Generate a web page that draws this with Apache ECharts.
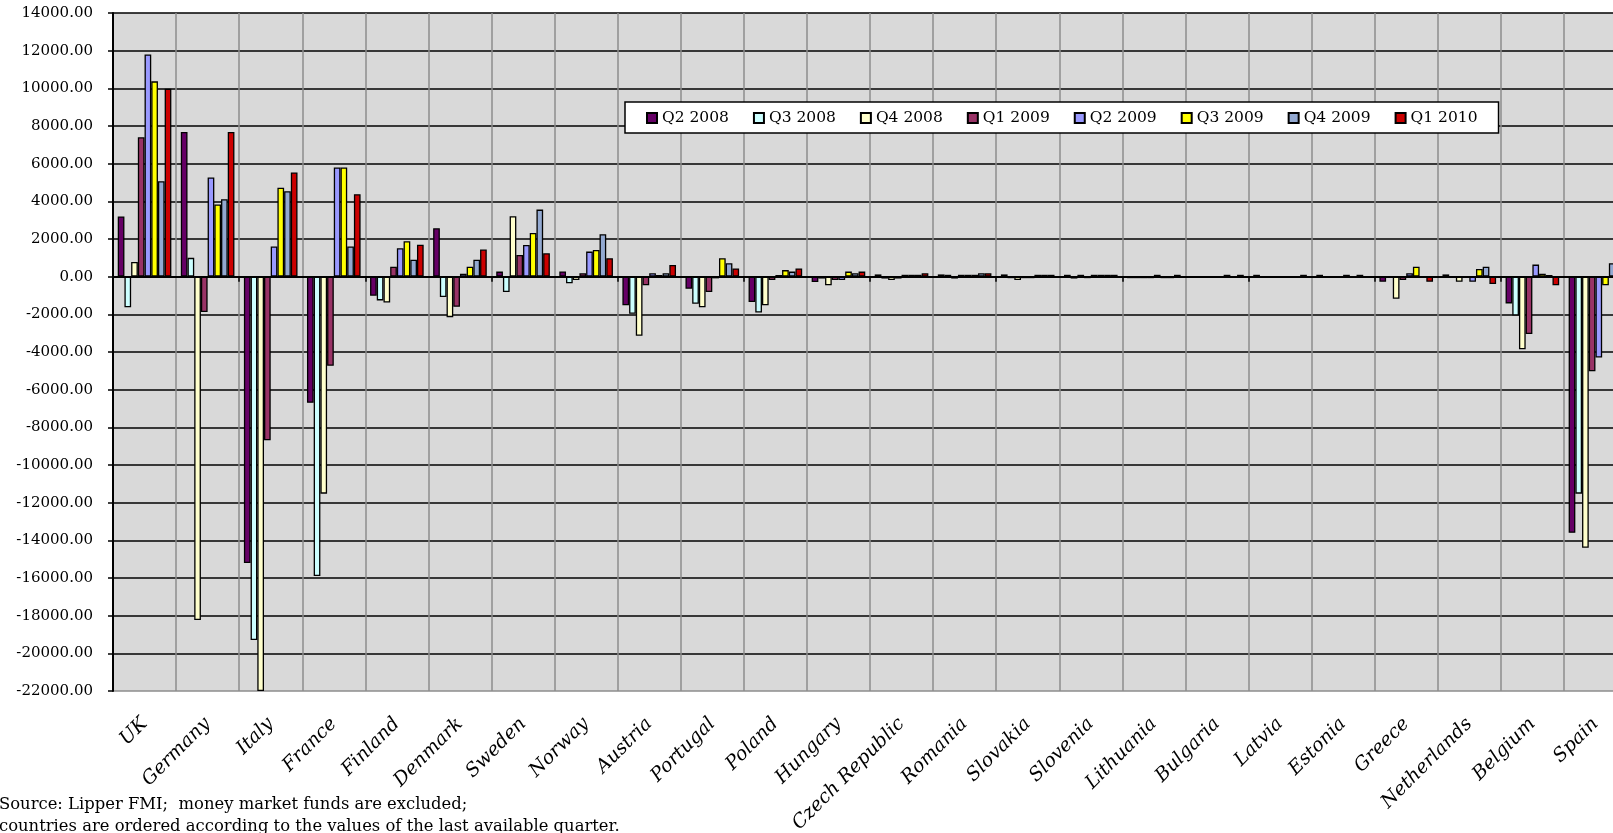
<!DOCTYPE html>
<html>
<head>
<meta charset="utf-8">
<script src="https://cdn.jsdelivr.net/npm/echarts@6/dist/echarts.min.js"></script>
<style>
  html, body { margin: 0; padding: 0; background: #ffffff; }
  #chart { width: 1613px; height: 833px; }
</style>
</head>
<body>
<div id="chart"></div>
<script>
// Net sales of investment funds by country, quarterly (money market funds excluded)
const countries = ['UK', 'Germany', 'Italy', 'France', 'Finland', 'Denmark', 'Sweden', 'Norway',
  'Austria', 'Portugal', 'Poland', 'Hungary', 'Czech Republic', 'Romania', 'Slovakia', 'Slovenia',
  'Lithuania', 'Bulgaria', 'Latvia', 'Estonia', 'Greece', 'Netherlands', 'Belgium', 'Spain'];

const quarters = ['Q2 2008', 'Q3 2008', 'Q4 2008', 'Q1 2009', 'Q2 2009', 'Q3 2009', 'Q4 2009', 'Q1 2010'];

const q2_2008 = [3200, 7680, -15210, -6700, -1010, 2570, 270, 280, -1520, -640, -1350, -280,
  120, 120, 120, 100, -80, -60, 100, 100, -270, 120, -1420, -13600];
const q3_2008 = [-1630, 1000, -19290, -15890, -1260, -1080, -820, -350, -1970, -1440, -1900, -100,
  -100, 100, -80, -100, -80, -60, -60, -60, -40, -50, -2060, -11520];
const q4_2008 = [780, -18230, -22000, -11520, -1370, -2150, 3210, -180, -3140, -1630, -1520, -460,
  -180, -100, -180, 100, -80, -60, -60, -60, -1170, -270, -3850, -14400];
const q1_2009 = [7400, -1880, -8690, -4730, 530, -1600, 1150, 180, -460, -820, -180, -180,
  -100, 100, -80, -80, -80, -60, -60, -60, -180, -50, -3050, -5020];
const q2_2009 = [11800, 5270, 1600, 5800, 1510, 160, 1680, 1330, 180, -90, 90, -180,
  100, 100, -80, 100, 100, -60, -60, 100, 180, -270, 640, -4290];
const q3_2009 = [10370, 3830, 4720, 5800, 1880, 530, 2320, 1420, 90, 980, 350, 270,
  100, 100, 100, 100, -80, 100, -60, -60, 530, 410, 160, -460];
const q4_2009 = [5070, 4110, 4540, 1600, 900, 900, 3560, 2250, 180, 710, 270, 180,
  100, 180, 100, 100, -80, -60, -60, 100, -40, 530, 90, 710];
const q1_2010 = [9980, 7680, 5530, 4380, 1700, 1440, 1240, 980, 620, 440, 440, 270,
  180, 180, 100, 100, 100, 100, 100, -60, -270, -390, -460, -1100];

const seriesValues = [q2_2008, q3_2008, q4_2008, q1_2009, q2_2009, q3_2009, q4_2009, q1_2010];
const seriesColors = ['#660066', '#ccffff', '#ffffcc', '#993366', '#9999ff', '#ffff00', '#93a9d1', '#cc0000'];

const yMin = -22000, yMax = 14000, yStep = 2000;
const sourceNote = [
  'Source: Lipper FMI;  money market funds are excluded;',
  'countries are ordered according to the values of the last available quarter.'
];

const serif = '"DejaVu Serif", "Liberation Serif", serif';

// bottom border of the plot is grey, all other horizontal rules black
const hLineColors = [];
for (let v = yMin; v <= yMax; v += yStep) hLineColors.push(v === yMin ? '#8c8c8c' : '#000000');

const chart = echarts.init(document.getElementById('chart'), null, { renderer: 'canvas' });

chart.setOption({
  animation: false,
  backgroundColor: '#ffffff',
  grid: {
    // the plot runs a little past the right edge of the page
    left: 113, top: 13, width: 1514, bottom: 142,
    outerBoundsMode: 'none', containLabel: false,
    show: true, backgroundColor: '#d9d9d9', borderWidth: 0
  },
  legend: {
    data: quarters,
    left: 625, top: 102,
    orient: 'horizontal',
    backgroundColor: '#ffffff',
    borderColor: '#000000', borderWidth: 1.5,
    padding: [8, 21, 7, 21],
    itemGap: 24, itemWidth: 10, itemHeight: 10,
    icon: 'rect',
    textStyle: { fontFamily: serif, fontSize: 15.5, color: '#000000' }
  },
  xAxis: [
    {
      type: 'category', data: countries, position: 'bottom',
      axisLine: { show: false, onZero: false },
      axisTick: { show: false },
      splitLine: { show: true, lineStyle: { color: '#8c8c8c', width: 1.5 } },
      axisLabel: {
        interval: 0, rotate: 45, margin: 30,
        fontFamily: serif, fontStyle: 'italic', fontSize: 19, color: '#000000'
      }
    },
    {
      type: 'category', data: countries, position: 'bottom',
      axisLine: { show: true, onZero: true, lineStyle: { color: '#000000', width: 2 } },
      axisTick: { show: true, length: 5, lineStyle: { color: '#000000', width: 1.5 } },
      axisLabel: { show: false },
      splitLine: { show: false }
    }
  ],
  yAxis: {
    type: 'value', min: yMin, max: yMax, interval: yStep,
    axisLine: { show: true, lineStyle: { color: '#000000', width: 2 } },
    axisTick: { show: true, length: 5, lineStyle: { color: '#000000', width: 1.5 } },
    splitLine: { show: true, lineStyle: { color: hLineColors, width: 1.5 } },
    axisLabel: {
      margin: 20, fontFamily: serif, fontSize: 15, color: '#000000',
      formatter: v => v.toFixed(2)
    }
  },
  graphic: sourceNote.map((line, i) => ({
    type: 'text', left: -1, top: 797 + i * 22,
    style: { text: line, font: '16.4px ' + serif, fill: '#000000' }
  })),
  series: quarters.map((name, i) => ({
    name: name, type: 'bar', xAxisIndex: 0,
    data: seriesValues[i],
    barGap: '0%', barCategoryGap: '15%',
    itemStyle: { color: seriesColors[i], borderColor: '#000000', borderWidth: 1.3 }
  }))
});
</script>
</body>
</html>
